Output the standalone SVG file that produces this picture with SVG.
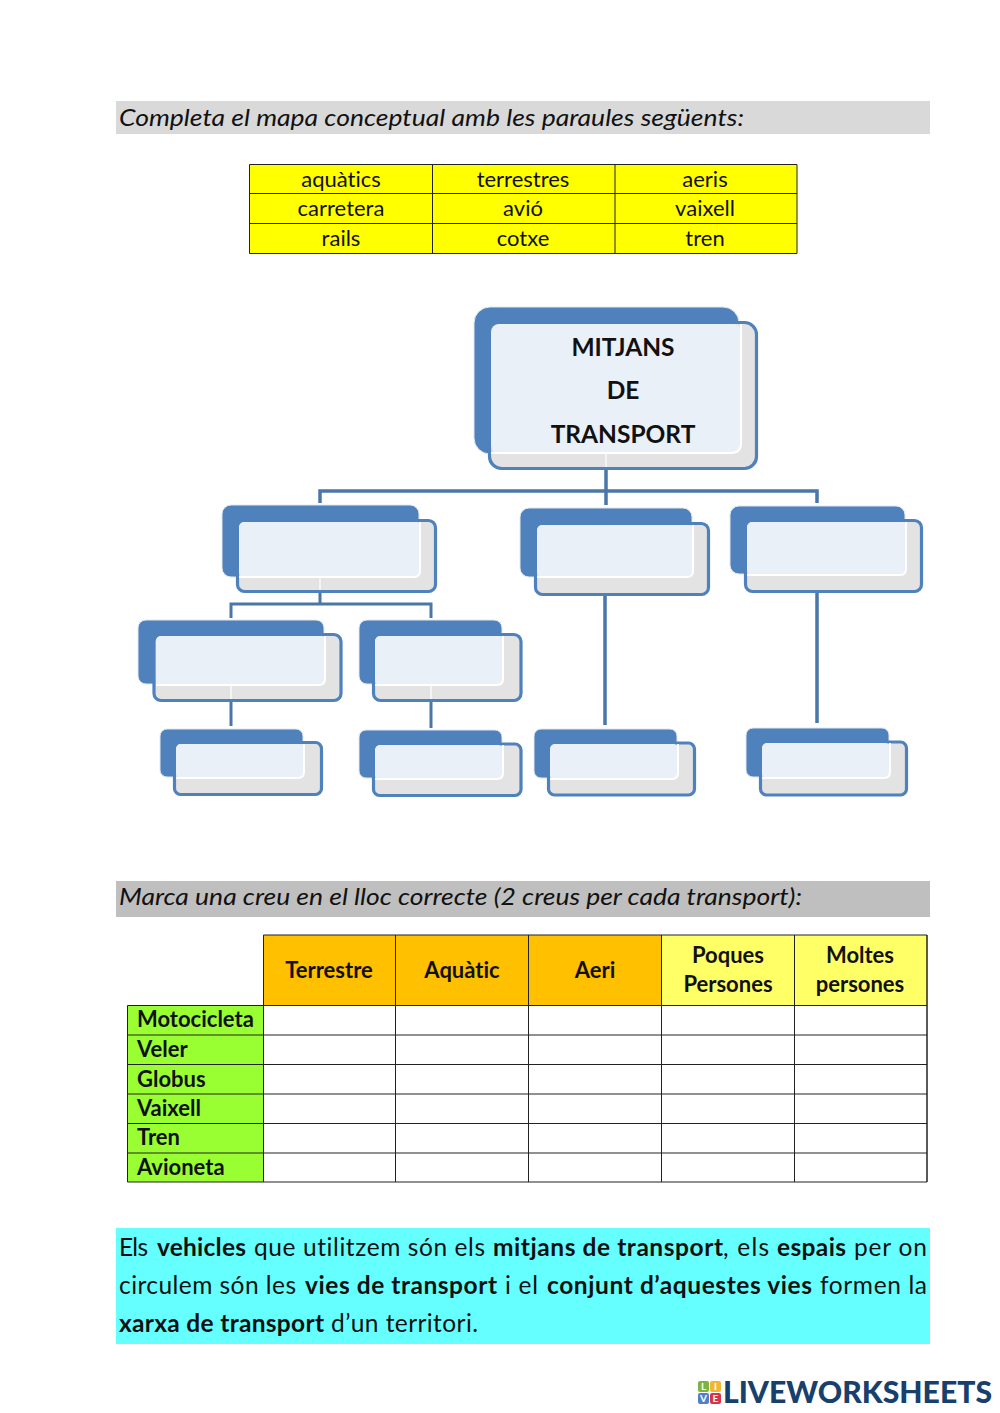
<svg xmlns="http://www.w3.org/2000/svg" width="1000" height="1413" viewBox="0 0 1000 1413">
<style>
text{font-family:"Lato","Carlito","Liberation Sans",sans-serif;fill:#111;font-variant-ligatures:none}
.h{font-size:24px;font-style:italic}
.c{font-size:22px;text-anchor:middle}
.b{font-weight:700}
.th{font-size:22px;font-weight:700;text-anchor:middle}
.r{font-size:22px;font-weight:700}
.p{font-size:24.500px}
.t{font-size:24.500px;font-weight:700;text-anchor:middle}
.back{fill:#4F81BD;stroke:#E2E8EE;stroke-width:1}
.front{fill:#E3E3E3;stroke:#4F81BD;stroke-width:3.200}
.inner{fill:#EAF0F8}
.edge{fill:none;stroke:#fff;stroke-width:2}
.seam{fill:none;stroke:#F4F4F4;stroke-width:2}
.grid{fill:none;stroke:#222;stroke-width:1}
.con{fill:none;stroke:#4A76A8;stroke-width:3.500}
.thin{stroke-width:3}
.logo{font-size:29.500px;font-weight:900;fill:#17406D}
.tile{font-size:10px;font-weight:700;fill:#fff;text-anchor:middle}
</style>
<rect width="1000" height="1413" fill="#fff"/>

<g id="instruction-1">
<rect x="116" y="101" width="814" height="33" fill="#D9D9D9"/>
<text class="h" x="119" y="126" textLength="625" lengthAdjust="spacingAndGlyphs">Completa el mapa conceptual amb les paraules següents:</text>
</g>

<g id="word-table">
<rect x="249.500" y="164.500" width="547.500" height="89" fill="#FFFF00"/>
<path class="grid" d="M249.500 164.500H797V253.500H249.500ZM249.500 193.500H797M249.500 223.500H797M432.500 164.500V253.500M615 164.500V253.500"/>
<text class="c" x="341" y="187">aquàtics</text><text class="c" x="523" y="187">terrestres</text><text class="c" x="705" y="187">aeris</text>
<text class="c" x="341" y="216">carretera</text><text class="c" x="523" y="216">avió</text><text class="c" x="705" y="216">vaixell</text>
<text class="c" x="341" y="246">rails</text><text class="c" x="523" y="246">cotxe</text><text class="c" x="705" y="246">tren</text>
</g>

<g id="connectors">
<path class="con" d="M606 469V505M320 503V491H817V503"/>
<path class="con thin" d="M320 592V604M231 618V604H431V618"/>
<path class="con thin" d="M231 701V726M431 701V728"/>
<path class="con" d="M605 595V725M817 592V723"/>
</g>

<g id="node-main">
<rect class="back" x="474" y="307" width="265" height="147" rx="16"/>
<rect class="front" x="489.500" y="322.500" width="267" height="146" rx="12"/>
<rect class="inner" x="491" y="324" width="250" height="129" rx="8"/>
<path class="edge" d="M741 324V443Q741 453 731 453H491"/>
<path class="seam" d="M606 454V467"/>
<text class="t" x="623" y="356">MITJANS</text>
<text class="t" x="623" y="399">DE</text>
<text class="t" x="623" y="443">TRANSPORT</text>
</g>
<g id="node-terrestres">
<rect class="back" x="222" y="505" width="197" height="72" rx="9"/>
<rect class="front" x="237.500" y="520.500" width="198" height="71" rx="7"/>
<rect class="inner" x="239" y="522" width="181" height="55" rx="5"/>
<path class="edge" d="M420 522V571Q420 577 414 577H239"/>
<path class="seam" d="M320 578V590"/>
</g>
<g id="node-aquatics">
<rect class="back" x="520" y="508" width="172" height="69" rx="9"/>
<rect class="front" x="535.500" y="523.500" width="173" height="71" rx="7"/>
<rect class="inner" x="537" y="525" width="156" height="52" rx="5"/>
<path class="edge" d="M693 525V571Q693 577 687 577H537"/>
</g>
<g id="node-aeris">
<rect class="back" x="730" y="506" width="175" height="68" rx="9"/>
<rect class="front" x="745.500" y="520.500" width="176" height="71" rx="7"/>
<rect class="inner" x="747" y="522" width="159" height="53" rx="5"/>
<path class="edge" d="M906 522V569Q906 575 900 575H747"/>
</g>
<g id="node-carretera">
<rect class="back" x="138" y="620" width="186" height="64" rx="8"/>
<rect class="front" x="154" y="634.500" width="187" height="66" rx="7"/>
<rect class="inner" x="156" y="636" width="169" height="49" rx="5"/>
<path class="edge" d="M325 636V679Q325 685 319 685H156"/>
<path class="seam" d="M231 686V699"/>
</g>
<g id="node-rails">
<rect class="back" x="359" y="620" width="143" height="64" rx="8"/>
<rect class="front" x="373.500" y="634.500" width="147.500" height="66" rx="7"/>
<rect class="inner" x="375" y="636" width="128" height="49" rx="5"/>
<path class="edge" d="M503 636V679Q503 685 497 685H375"/>
<path class="seam" d="M431 686V699"/>
</g>
<g id="node-cotxe">
<rect class="back" x="160" y="729" width="143" height="48" rx="7"/>
<rect class="front" x="174.500" y="742.500" width="147" height="52" rx="6"/>
<rect class="inner" x="176" y="744" width="128" height="34" rx="5"/>
<path class="edge" d="M304 744V772Q304 778 298 778H176"/>
</g>
<g id="node-tren">
<rect class="back" x="359" y="730" width="143" height="48" rx="7"/>
<rect class="front" x="373.500" y="744" width="147.500" height="51.500" rx="6"/>
<rect class="inner" x="375" y="745" width="128" height="34" rx="5"/>
<path class="edge" d="M503 745V773Q503 779 497 779H375"/>
</g>
<g id="node-vaixell">
<rect class="back" x="534" y="729" width="143" height="49" rx="7"/>
<rect class="front" x="548.500" y="743" width="146" height="52" rx="6"/>
<rect class="inner" x="550" y="744" width="128" height="35" rx="5"/>
<path class="edge" d="M678 744V773Q678 779 672 779H550"/>
</g>
<g id="node-avio">
<rect class="back" x="746" y="728" width="143" height="49" rx="7"/>
<rect class="front" x="760.500" y="742" width="146" height="53" rx="6"/>
<rect class="inner" x="762" y="743" width="128" height="35" rx="5"/>
<path class="edge" d="M890 743V772Q890 778 884 778H762"/>
</g>

<g id="instruction-2">
<rect x="116" y="881" width="814" height="36" fill="#BFBFBF"/>
<text class="h" x="119" y="905" textLength="683" lengthAdjust="spacingAndGlyphs">Marca una creu en el lloc correcte (2 creus per cada transport):</text>
</g>

<g id="cross-table">
<rect x="263.500" y="935" width="398" height="70" fill="#FFC000"/>
<rect x="661.500" y="935" width="265.500" height="70" fill="#FFFF66"/>
<rect x="127.500" y="1005.500" width="136" height="176.500" fill="#99FF33"/>
<path class="grid" d="M263.500 935H927V1182H127.500V1005.500H927M127.500 1035H927M127.500 1064.500H927M127.500 1094H927M127.500 1123.500H927M127.500 1153H927M263.500 935V1182M395.500 935V1182M528.500 935V1182M661.500 935V1182M794.500 935V1182M927 935V1182"/>
<text class="th" x="329" y="978">Terrestre</text>
<text class="th" x="462" y="978">Aquàtic</text>
<text class="th" x="595" y="978">Aeri</text>
<text class="th" x="728" y="963">Poques</text>
<text class="th" x="728" y="992">Persones</text>
<text class="th" x="860" y="963">Moltes</text>
<text class="th" x="860" y="992">persones</text>
<text class="r" x="137" y="1027">Motocicleta</text>
<text class="r" x="137" y="1057">Veler</text>
<text class="r" x="137" y="1087">Globus</text>
<text class="r" x="137" y="1116">Vaixell</text>
<text class="r" x="137" y="1145">Tren</text>
<text class="r" x="137" y="1175">Avioneta</text>
</g>

<g id="summary">
<rect x="116" y="1228" width="814" height="116" fill="#66FFFF"/>
<text class="p" x="119" y="1256" textLength="29">Els</text>
<text class="p b" x="157" y="1256" textLength="89">vehicles</text>
<text class="p" x="254" y="1256" textLength="231">que utilitzem són els</text>
<text class="p b" x="493" y="1256" textLength="230">mitjans de transport</text>
<text class="p" x="723" y="1256" textLength="46">, els</text>
<text class="p b" x="777" y="1256" textLength="69">espais</text>
<text class="p" x="854" y="1256" textLength="73">per on</text>
<text class="p" x="119" y="1294" textLength="177">circulem són les</text>
<text class="p b" x="305" y="1294" textLength="192">vies de transport</text>
<text class="p" x="505" y="1294" textLength="33">i el</text>
<text class="p b" x="547" y="1294" textLength="265">conjunt d’aquestes vies</text>
<text class="p" x="820" y="1294" textLength="107">formen la</text>
<text class="p b" x="119" y="1332" textLength="205">xarxa de transport</text>
<text class="p" x="331" y="1332" textLength="147">d’un territori.</text>
</g>

<g id="logo">
<rect x="698" y="1381" width="11" height="11" rx="2" fill="#7CB342"/>
<rect x="710" y="1381" width="11" height="11" rx="2" fill="#F2B632"/>
<rect x="698" y="1393" width="11" height="11" rx="2" fill="#4F81C7"/>
<rect x="710" y="1393" width="11" height="11" rx="2" fill="#D8334A"/>
<text class="tile" x="703.500" y="1390">L</text>
<text class="tile" x="715.500" y="1390">I</text>
<text class="tile" x="703.500" y="1402">V</text>
<text class="tile" x="715.500" y="1402">E</text>
<text class="logo" x="723" y="1403" textLength="269" lengthAdjust="spacingAndGlyphs">LIVEWORKSHEETS</text>
</g>
</svg>
